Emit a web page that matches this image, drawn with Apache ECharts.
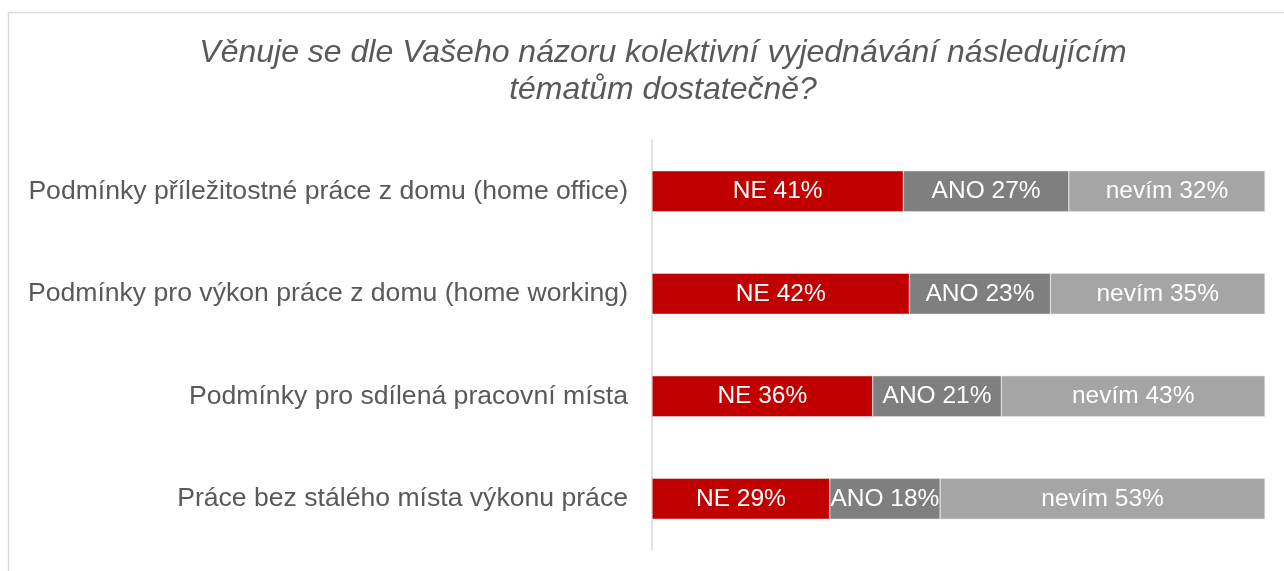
<!DOCTYPE html>
<html>
<head>
<meta charset="utf-8">
<script src="https://cdn.jsdelivr.net/npm/echarts@6/dist/echarts.min.js"></script>
<style>
  html, body { margin: 0; padding: 0; background: #fff; }
  #chart { width: 1284px; height: 571px; }
</style>
</head>
<body>
<div id="chart"></div>
<script>
var categories = [
    'Podmínky příležitostné práce z domu (home office)',
    'Podmínky pro výkon práce z domu (home working)',
    'Podmínky pro sdílená pracovní místa',
    'Práce bez stálého místa výkonu práce'
]
var ne = [41, 42, 36, 29]
var ano = [27, 23, 21, 18]
var nevim = [32, 35, 43, 53]
var seriesNames = ['NE', 'ANO', 'nevím']
var colors = ['#C00000', '#7F7F7F', '#A5A5A5']

var myChart = echarts.init(document.getElementById('chart'))

function makeSeries(name, values, color) {
    return {
        name: name,
        type: 'bar',
        stack: 'total',
        barWidth: 41,
        data: values,
        itemStyle: {
            color: color,
            borderColor: '#e6e6e6',
            borderWidth: 0.5
        },
        label: {
            show: true,
            position: 'inside',
            color: '#FFFFFF',
            fontFamily: 'Liberation Sans, Arial, sans-serif',
            fontSize: 24.5,
            formatter: function (p) {
                return name + ' ' + p.value + '%'
            }
        },
        animation: false
    }
}

option = {
    backgroundColor: '#fff',
    title: {
        text: 'Věnuje se dle Vašeho názoru kolektivní vyjednávání následujícím\ntématům dostatečně?',
        left: 658,
        top: 30,
        textAlign: 'center',
        textStyle: {
            color: '#595959',
            fontStyle: 'italic',
            fontWeight: 'normal',
            fontFamily: 'Liberation Sans, Arial, sans-serif',
            fontSize: 32,
            lineHeight: 37
        }
    },
    legend: { show: false },
    tooltip: { show: false },
    graphic: [{
        type: 'rect',
        silent: true,
        shape: { x: 8.5, y: 12.5, width: 1400, height: 700 },
        style: { fill: 'none', stroke: '#d9d9d9', lineWidth: 1.5 }
    }],
    grid: {
        left: 652,
        right: 19,
        top: 140,
        bottom: 21
    },
    xAxis: {
        type: 'value',
        min: 0,
        max: 100,
        show: false
    },
    yAxis: {
        type: 'category',
        inverse: true,
        data: categories,
        axisLine: { show: true, lineStyle: { color: '#d9d9d9', width: 1.5 } },
        axisTick: { show: false },
        axisLabel: {
            margin: 24,
            color: '#595959',
            fontFamily: 'Liberation Sans, Arial, sans-serif',
            fontSize: 26.6
        }
    },
    series: [
        makeSeries(seriesNames[0], ne, colors[0]),
        makeSeries(seriesNames[1], ano, colors[1]),
        makeSeries(seriesNames[2], nevim, colors[2])
    ]
}
myChart.setOption(option)
</script>
</body>
</html>
